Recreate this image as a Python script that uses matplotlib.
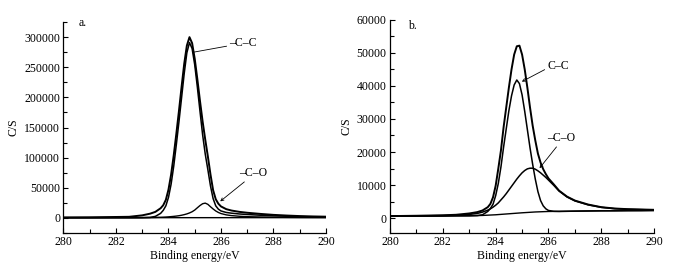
import matplotlib
matplotlib.use("Agg")
import matplotlib.pyplot as plt
from matplotlib.ticker import MultipleLocator

plt.rcParams['font.family'] = ['Liberation Serif', 'DejaVu Serif']
plt.rcParams['font.size'] = 8.5

# binding energy grid (eV), shared by both panels
energy = [280, 281, 282, 282.5, 283, 283.3, 283.5, 283.7, 283.8, 283.9,
          284.0, 284.1, 284.2, 284.3, 284.4, 284.5, 284.6, 284.7, 284.8, 284.9,
          285.0, 285.1, 285.2, 285.3, 285.4, 285.5, 285.6, 285.7, 285.8, 285.9,
          286.0, 286.2, 286.4, 286.7, 287.0, 287.5, 288.0, 288.5, 289.0, 289.5, 290.0]

# panel a (counts/s)
env_a = [800, 1000, 1500, 1800, 4200, 7000, 10000, 16000, 21000, 30000,
         47000, 72000, 104000, 140000, 178000, 218000, 256000, 286000, 300000, 290000,
         264000, 230000, 194000, 160000, 130000, 102000, 72000, 46000, 31000, 23500,
         19000, 14500, 12200, 10000, 8500, 6600, 5000, 3900, 3000, 2400, 2000]
cc_a = [300, 300, 300, 300, 400, 800, 2500, 7500, 12500, 20000,
        34000, 56000, 86000, 122000, 160000, 200000, 240000, 274000, 291000, 281000,
        254000, 217000, 177000, 138000, 106000, 80000, 53000, 32000, 20000, 14500,
        11500, 9000, 7800, 6500, 5600, 4400, 3400, 2700, 2100, 1700, 1400]
co_a = [300, 300, 350, 400, 500, 600, 800, 1000, 1200, 1400,
        1700, 2100, 2500, 3000, 3600, 4400, 5400, 6600, 8200, 10200,
        13000, 16800, 20500, 23500, 24500, 22500, 18500, 14800, 11500, 9000,
        7200, 5000, 3800, 2700, 2000, 1500, 1100, 900, 750, 650, 600]
base_e_a = [280, 290]
base_a = [300, 400]

# panel b (counts/s)
env_b = [600, 700, 850, 1000, 1400, 1800, 2300, 3300, 4300, 6300,
         9800, 15000, 20500, 27500, 33500, 39500, 45000, 49500, 52000, 52200,
         49500, 45000, 39500, 33500, 28000, 23500, 19500, 16800, 14800, 13300,
         12000, 10200, 8300, 6500, 5300, 4100, 3300, 2900, 2700, 2600, 2500]
cc_b = [600, 620, 650, 680, 700, 750, 1000, 2000, 2900, 4200,
        6800, 10500, 15500, 21500, 27000, 32500, 37000, 40300, 41800, 40700,
        37300, 32300, 26800, 21300, 16300, 11800, 8000, 5300, 3700, 2800,
        2300, 2050, 2000, 2050, 2100, 2150, 2200, 2200, 2250, 2250, 2300]
co_b = [600, 650, 750, 850, 1100, 1400, 1800, 2400, 2800, 3300,
        3900, 4600, 5500, 6400, 7400, 8500, 9600, 10700, 11800, 12800,
        13700, 14400, 14900, 15100, 15100, 14800, 14300, 13700, 13000, 12300,
        11500, 9900, 8200, 6400, 5200, 4000, 3250, 2850, 2650, 2550, 2450]
base_e_b = [280, 282, 283, 283.5, 284, 284.5, 285, 285.5, 286, 287, 288, 290]
base_b = [600, 650, 700, 800, 1000, 1300, 1600, 1850, 2000, 2100, 2200, 2300]

fig = plt.figure(figsize=(6.79, 2.76), dpi=100)
axA = fig.add_axes([0.0935, 0.156, 0.3866, 0.764])
axB = fig.add_axes([0.5744, 0.156, 0.389, 0.772])


def style(ax, ymin, ymax, ymaj, ymin_step):
    ax.set_xlim(280, 290)
    ax.set_ylim(ymin, ymax)
    ax.xaxis.set_major_locator(MultipleLocator(2))
    ax.xaxis.set_minor_locator(MultipleLocator(1))
    ax.yaxis.set_major_locator(MultipleLocator(ymaj))
    ax.yaxis.set_minor_locator(MultipleLocator(ymin_step))
    ax.tick_params(which='both', direction='in', width=0.8, pad=2.5,
                   top=False, right=False)
    ax.tick_params(which='major', length=3.5)
    ax.tick_params(which='minor', length=3)
    ax.spines['top'].set_visible(False)
    ax.spines['right'].set_visible(False)
    for s in ('left', 'bottom'):
        ax.spines[s].set_linewidth(0.9)
    ax.set_xlabel('Binding energy/eV', labelpad=1.5)
    ax.set_ylabel('C/S', labelpad=3)


# panel a
axA.plot(base_e_a, base_a, color='black', lw=1.0)
axA.plot(energy, co_a, color='black', lw=1.0)
axA.plot(energy, cc_a, color='black', lw=1.1)
axA.plot(energy, env_a, color='black', lw=1.4)
style(axA, -25000, 325000, 50000, 25000)
axA.text(0.056, 0.995, 'a.', transform=axA.transAxes, va='center', ha='left')
axA.annotate('\u2013C\u2013C', xy=(284.95, 275000), xytext=(286.32, 289800),
             va='center', ha='left',
             arrowprops=dict(arrowstyle='-', lw=0.6, color='black',
                             shrinkA=0, shrinkB=0, relpos=(0, 0.3)))
axA.annotate('\u2013C\u2013O', xy=(285.97, 27400), xytext=(286.70, 74300),
             va='center', ha='left',
             arrowprops=dict(arrowstyle='->', lw=0.6, color='black',
                             shrinkA=0, shrinkB=0, relpos=(0.3, 0),
                             mutation_scale=5))

# panel b
axB.plot(base_e_b, base_b, color='black', lw=1.0)
axB.plot(energy, co_b, color='black', lw=1.1)
axB.plot(energy, cc_b, color='black', lw=1.1)
axB.plot(energy, env_b, color='black', lw=1.4)
style(axB, -4500, 60000, 10000, 5000)
axB.text(0.068, 0.972, 'b.', transform=axB.transAxes, va='center', ha='left')
axB.annotate('C\u2013C', xy=(284.99, 41300), xytext=(285.96, 46100),
             va='center', ha='left',
             arrowprops=dict(arrowstyle='->', lw=0.6, color='black',
                             shrinkA=0, shrinkB=0, relpos=(0, 0.3),
                             mutation_scale=5))
axB.annotate('\u2013C\u2013O', xy=(285.66, 15100), xytext=(285.96, 24200),
             va='center', ha='left',
             arrowprops=dict(arrowstyle='->', lw=0.6, color='black',
                             shrinkA=0, shrinkB=0, relpos=(0.4, 0),
                             mutation_scale=5))

fig.savefig('out.png', dpi=100)
